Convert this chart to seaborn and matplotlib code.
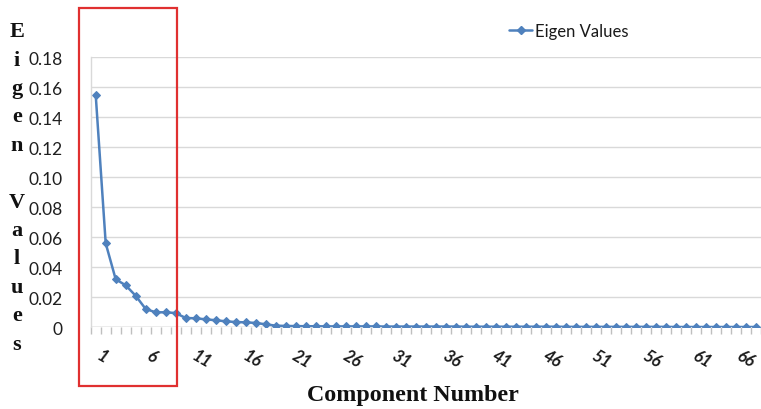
import numpy as np
import pandas as pd
import matplotlib
matplotlib.use("Agg")
import matplotlib.pyplot as plt
import matplotlib.transforms as mtransforms
from matplotlib.patches import Rectangle
from matplotlib.lines import Line2D
import seaborn as sns

# ---- data ----
components = list(range(1, 68))
eigen_values = [
    0.155, 0.056, 0.032, 0.028, 0.021, 0.0122, 0.0100, 0.0100, 0.0095, 0.0062,
    0.0060, 0.0053, 0.0047, 0.0040, 0.0035, 0.0033, 0.0029, 0.0020, 0.0011, 0.0009,
    0.0008, 0.0007, 0.0007, 0.0006, 0.0006, 0.0006, 0.0006, 0.0006, 0.0006, 0.0005,
    0.0005, 0.0005, 0.0005, 0.0005, 0.0005, 0.0005, 0.0005, 0.0004, 0.0004, 0.0004,
    0.0004, 0.0004, 0.0004, 0.0004, 0.0004, 0.0004, 0.0004, 0.0003, 0.0003, 0.0003,
    0.0003, 0.0003, 0.0003, 0.0003, 0.0003, 0.0003, 0.0003, 0.0003, 0.0002, 0.0002,
    0.0002, 0.0002, 0.0002, 0.0002, 0.0002, 0.0002, 0.0002,
]
x_tick_values = list(range(1, 68, 5))
x_tick_labels = [str(v) for v in x_tick_values]
y_tick_values = [0, 0.02, 0.04, 0.06, 0.08, 0.10, 0.12, 0.14, 0.16, 0.18]
y_tick_labels = ["0", "0.02", "0.04", "0.06", "0.08", "0.10", "0.12", "0.14", "0.16", "0.18"]
series_name = "Eigen Values"
x_title = "Component Number"
y_title = "Eigen Values"

df = pd.DataFrame({"Component": components, "Eigen": eigen_values})

sns.set_theme(style="white")
plt.rcParams["font.family"] = ["Lato", "DejaVu Sans"]

W, H = 761, 410
fig = plt.figure(figsize=(W / 100, H / 100), dpi=100)
ax_left, ax_right = 90.7, 761.0
ax_top, ax_bottom = 58.3, 328.3
ax = fig.add_axes([ax_left / W, 1 - ax_bottom / H, (ax_right - ax_left) / W, (ax_bottom - ax_top) / H])

line_color = "#4F81BD"
sns.lineplot(data=df, x="Component", y="Eigen", ax=ax, color=line_color, linewidth=1.8,
             marker="D", markersize=4.5, markeredgecolor=line_color, legend=False)

ax.set_xlim(0.5, 67.53)
ax.set_ylim(0, 0.18)

# gridlines
ax.set_yticks(y_tick_values)
ax.set_yticklabels(y_tick_labels)
ax.yaxis.grid(True, color="#d9d9d9", linewidth=1)
ax.set_axisbelow(True)
for s in ["top", "right", "bottom"]:
    ax.spines[s].set_visible(False)
ax.spines["left"].set_color("#d9d9d9")
ax.spines["left"].set_linewidth(1)
ax.axhline(0, color="#bfbfbf", linewidth=1, zorder=1)

ax.tick_params(axis="y", length=0, pad=20, labelsize=12.5, labelcolor="#1f1f1f")

ax.set_xticks(x_tick_values)
ax.set_xticklabels(x_tick_labels, rotation=-30, fontstyle="italic", fontweight="bold",
                   fontsize=12, color="#1a1a1a", ha="center", va="top")
ax.set_xticks(np.arange(0.5, 68, 1.0), minor=True)
ax.tick_params(axis="x", which="major", length=0, pad=14)
ax.tick_params(axis="x", which="minor", length=5, width=1, color="#bfbfbf", bottom=True)
xlabels = ax.get_xticklabels()
for i, lab in enumerate(xlabels):
    dx = 6 if i < len(xlabels) - 1 else 0
    lab.set_transform(lab.get_transform() + mtransforms.ScaledTranslation(dx / 100, 0, fig.dpi_scale_trans))

ax.set_xlabel("")
ax.set_ylabel("")

# axis titles
fig.text(413 / W, 1 - 396 / H, x_title, ha="center", va="center",
         family="Liberation Serif", fontweight="bold", fontsize=17.3, color="#111111")
y_stack = "\n".join(list(y_title))
fig.text(17 / W, 1 - 188.5 / H, y_stack, ha="center", va="center", multialignment="center",
         family="Liberation Serif", fontweight="bold", fontsize=16, color="#111111",
         linespacing=1.56)

# legend
h = Line2D([], [], color=line_color, linewidth=1.8, marker="D", markersize=4.5)
fig.legend([h], [series_name], loc="center left", bbox_to_anchor=(509 / W, 1 - 32 / H),
           frameon=False, fontsize=12, handlelength=1.4, handletextpad=0.15,
           borderaxespad=0, borderpad=0, labelcolor="#1a1a1a")

# red highlight box
fig.patches.append(Rectangle((79 / W, 1 - 387.3 / H), (176.7 - 79) / W, (387.3 - 8.5) / H,
                             transform=fig.transFigure, fill=False, edgecolor="#e03030",
                             linewidth=1.6, zorder=10))

fig.savefig("out.png", dpi=100, facecolor="white")
